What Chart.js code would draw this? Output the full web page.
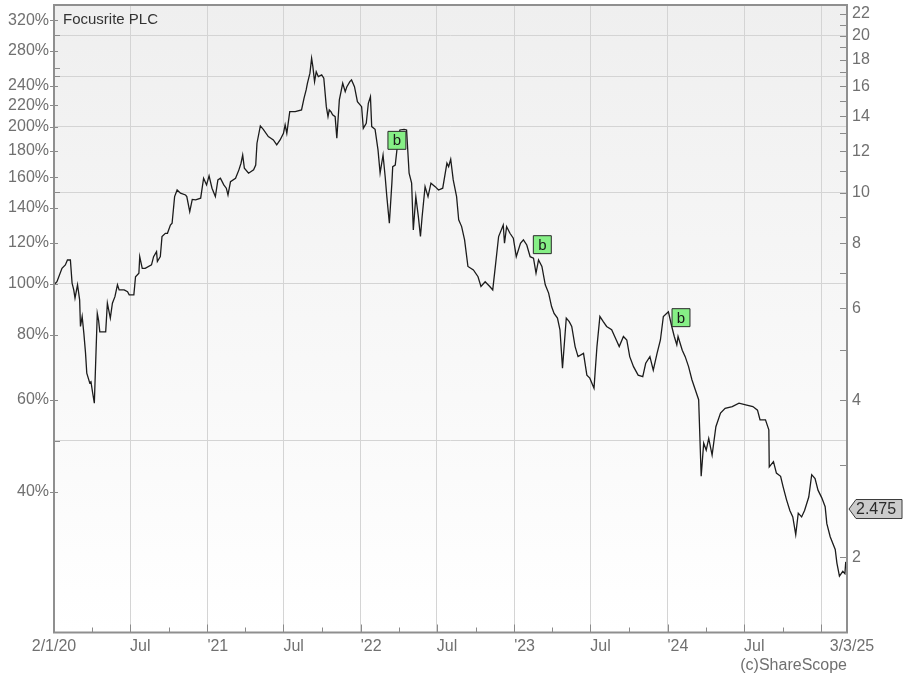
<!DOCTYPE html>
<html>
<head>
<meta charset="utf-8">
<title>Focusrite PLC</title>
<script src="https://cdn.jsdelivr.net/npm/chart.js@4.4.1/dist/chart.umd.min.js"></script>
<style>
  html, body { margin: 0; padding: 0; background: #fff; }
</style>
</head>
<body>
<canvas id="price_chart" width="904" height="676"></canvas>
<script>
const dates = [
  "2020-01-02","2020-01-09","2020-01-21","2020-01-29","2020-02-03","2020-02-10","2020-02-14","2020-02-18","2020-02-21","2020-02-27",
  "2020-03-03","2020-03-05","2020-03-09","2020-03-13","2020-03-17","2020-03-20","2020-03-27","2020-03-30","2020-04-03","2020-04-07",
  "2020-04-14","2020-04-17","2020-04-20","2020-05-04","2020-05-08","2020-05-15","2020-05-20","2020-05-26","2020-06-01","2020-06-05",
  "2020-06-17","2020-06-25","2020-06-29","2020-07-10","2020-07-14","2020-07-22","2020-07-24","2020-07-30","2020-08-06","2020-08-21",
  "2020-08-26","2020-09-02","2020-09-04","2020-09-11","2020-09-15","2020-09-23","2020-09-28","2020-10-05","2020-10-09","2020-10-15",
  "2020-10-21","2020-10-29","2020-11-10","2020-11-13","2020-11-20","2020-11-26","2020-12-04","2020-12-16","2020-12-23","2020-12-30",
  "2021-01-05","2021-01-12","2021-01-20","2021-01-26","2021-02-01","2021-02-09","2021-02-15","2021-02-19","2021-02-25","2021-03-09",
  "2021-03-17","2021-03-22","2021-03-26","2021-03-30","2021-04-09","2021-04-21","2021-04-26","2021-04-29","2021-05-07","2021-05-14",
  "2021-05-26","2021-06-01","2021-06-07","2021-06-15","2021-06-23","2021-07-01","2021-07-05","2021-07-09","2021-07-16","2021-07-29",
  "2021-08-13","2021-08-19","2021-08-24","2021-08-27","2021-09-02","2021-09-06","2021-09-09","2021-09-13","2021-09-17","2021-09-22",
  "2021-09-30","2021-10-05","2021-10-11","2021-10-15","2021-10-18","2021-10-22","2021-10-26","2021-11-01","2021-11-05","2021-11-11",
  "2021-11-19","2021-11-25","2021-11-29","2021-12-06","2021-12-10","2021-12-17","2021-12-24","2022-01-03","2022-01-07","2022-01-14",
  "2022-01-19","2022-01-24","2022-01-27","2022-02-04","2022-02-11","2022-02-16","2022-02-23","2022-02-28","2022-03-04","2022-03-10",
  "2022-03-16","2022-03-18","2022-03-24","2022-03-28","2022-04-04","2022-04-14","2022-04-20","2022-04-26","2022-05-02","2022-05-06",
  "2022-05-12","2022-05-18","2022-05-23","2022-05-27","2022-06-03","2022-06-10","2022-06-17","2022-06-27","2022-07-05","2022-07-15",
  "2022-07-25","2022-07-29","2022-08-03","2022-08-09","2022-08-17","2022-08-22","2022-08-29","2022-09-05","2022-09-13","2022-09-26",
  "2022-10-07","2022-10-14","2022-10-24","2022-11-04","2022-11-11","2022-11-18","2022-11-25","2022-12-06","2022-12-09","2022-12-14",
  "2022-12-22","2022-12-30","2023-01-06","2023-01-16","2023-01-23","2023-01-31","2023-02-08","2023-02-16","2023-02-22","2023-02-28",
  "2023-03-08","2023-03-16","2023-03-24","2023-03-31","2023-04-06","2023-04-14","2023-04-20","2023-04-26","2023-05-05","2023-05-12",
  "2023-05-18","2023-05-26","2023-06-02","2023-06-15","2023-06-23","2023-06-30","2023-07-10","2023-07-17","2023-07-24","2023-08-01",
  "2023-08-09","2023-08-21","2023-09-01","2023-09-08","2023-09-18","2023-09-26","2023-10-03","2023-10-12","2023-10-23","2023-11-03",
  "2023-11-10","2023-11-20","2023-11-28","2023-12-07","2023-12-15","2023-12-22","2024-01-03","2024-01-11","2024-01-17","2024-01-23",
  "2024-01-26","2024-02-05","2024-02-12","2024-02-20","2024-02-28","2024-03-07","2024-03-15","2024-03-21","2024-03-27","2024-04-02",
  "2024-04-08","2024-04-16","2024-04-25","2024-05-06","2024-05-17","2024-06-03","2024-06-19","2024-07-05","2024-07-22","2024-08-02",
  "2024-08-08","2024-08-21","2024-08-29","2024-08-30","2024-09-09","2024-09-16","2024-09-26","2024-10-02","2024-10-10","2024-10-18",
  "2024-10-25","2024-11-01","2024-11-07","2024-11-15","2024-11-22","2024-12-02","2024-12-09","2024-12-17","2024-12-24","2025-01-02",
  "2025-01-10","2025-01-14","2025-01-22","2025-02-03","2025-02-07","2025-02-13","2025-02-21","2025-02-26","2025-02-28"
];

const prices = [
  6.66, 6.75, 7.16, 7.27, 7.43, 7.43, 6.71, 6.51, 6.28, 6.66,
  6.23, 5.54, 5.79, 5.38, 4.93, 4.51, 4.32, 4.34, 4.13, 3.95,
  5.87, 5.70, 5.41, 5.41, 6.14, 5.75, 6.14, 6.32, 6.66, 6.51,
  6.51, 6.46, 6.37, 6.37, 6.90, 7.01, 7.54, 7.16, 7.16, 7.27,
  7.54, 7.71, 7.38, 7.54, 8.24, 8.36, 8.36, 8.67, 8.74, 9.83,
  10.12, 9.98, 9.90, 9.83, 9.20, 9.71, 9.69, 9.76, 10.66, 10.35,
  10.77, 10.20, 9.83, 10.58, 10.66, 10.35, 10.20, 9.90, 10.50, 10.66,
  11.06, 11.39, 11.81, 11.14, 10.90, 11.06, 11.30, 12.44, 13.43, 13.23,
  12.81, 12.72, 12.62, 12.35, 12.62, 13.00, 13.49, 13.00, 14.30, 14.30,
  14.41, 15.18, 15.74, 16.21, 16.95, 18.11, 17.45, 16.33, 17.06, 16.69,
  16.82, 16.58, 14.62, 13.99, 14.41, 14.30, 14.10, 13.99, 12.72, 15.06,
  16.21, 15.62, 15.97, 16.33, 16.45, 15.97, 14.95, 14.62, 13.29, 13.59,
  14.84, 15.28, 13.39, 13.23, 12.08, 10.90, 11.81, 10.74, 9.83, 8.74,
  10.43, 11.22, 11.30, 12.08, 13.19, 13.23, 13.19, 10.90, 10.43, 8.48,
  9.83, 9.00, 8.24, 9.00, 10.27, 9.83, 10.43, 10.27, 10.12, 10.20,
  11.39, 11.22, 11.59, 10.58, 9.83, 8.87, 8.61, 8.12, 7.22, 7.11,
  6.90, 6.61, 6.75, 6.61, 6.51, 7.32, 8.24, 8.67, 8.00, 8.61,
  8.36, 8.18, 7.54, 8.00, 8.12, 7.94, 7.54, 7.49, 7.01, 7.43,
  7.22, 6.66, 6.42, 6.05, 5.87, 5.75, 5.46, 4.61, 5.75, 5.66,
  5.54, 5.07, 4.85, 4.92, 4.47, 4.41, 4.22, 5.07, 5.79, 5.66,
  5.54, 5.46, 5.22, 5.07, 5.30, 5.22, 4.85, 4.64, 4.47, 4.44,
  4.71, 4.85, 4.57, 4.92, 5.22, 5.79, 5.91, 5.54, 5.30, 5.11,
  5.30, 4.99, 4.85, 4.64, 4.38, 4.19, 4.01, 2.86, 3.31, 3.21,
  3.38, 3.14, 3.56, 3.78, 3.86, 3.89, 3.95, 3.92, 3.89, 3.83,
  3.67, 3.67, 3.51, 2.98, 3.05, 2.90, 2.86, 2.73, 2.58, 2.46,
  2.39, 2.21, 2.43, 2.39, 2.46, 2.61, 2.88, 2.83, 2.69, 2.60,
  2.50, 2.32, 2.19, 2.07, 1.95, 1.84, 1.88, 1.86, 1.96
];

// buy signals ("b" boxes)
const buyDates = ["2022-03-28", "2023-03-09", "2024-02-02"];
const buyPrices = [12.6, 7.95, 5.76];

const basePrice = 6.684;   // price at 100%
const lastPrice = 2.475;
const priceMin = 1.435;
const priceMax = 22.9;

const pctTicks = [40, 50, 60, 80, 100, 120, 140, 150, 160, 180, 200, 220, 240, 250, 260, 280, 300, 320];
const pctLabelled = [40, 60, 80, 100, 120, 140, 160, 180, 200, 220, 240, 280, 320];
const pctGrid = [50, 100, 150, 200, 250, 300];

const priceTicks = [2, 3, 4, 5, 6, 7, 8, 9, 10, 11, 12, 13, 14, 15, 16, 17, 18, 19, 20, 21, 22];
const priceLabelled = [2, 4, 6, 8, 10, 12, 14, 16, 18, 20, 22];

const xTickDates = [
  "2020-01-02", "2020-04-01", "2020-07-01", "2020-10-01", "2021-01-01", "2021-04-01", "2021-07-01", "2021-10-01",
  "2022-01-01", "2022-04-01", "2022-07-01", "2022-10-01", "2023-01-01", "2023-04-01", "2023-07-01", "2023-10-01",
  "2024-01-01", "2024-04-01", "2024-07-01", "2024-10-01", "2025-01-01", "2025-03-03"
];
const xTickLabels = [
  "2/1/20", "", "Jul", "", "'21", "", "Jul", "",
  "'22", "", "Jul", "", "'23", "", "Jul", "",
  "'24", "", "Jul", "", "", "3/3/25"
];

const FONT = "'Liberation Sans', Arial, sans-serif";
const LABEL_COLOUR = "#707070";
const toTime = d => Date.parse(d + "T00:00:00Z");
const isGridDate = d => /-(01|07)-01$/.test(d);

// Keep the plot area where the original has it
function fixSize(prop, size) {
  return scale => {
    scale[prop] = size;
    scale.paddingTop = 0;
    scale.paddingBottom = 0;
    scale.paddingLeft = 0;
    scale.paddingRight = 0;
  };
}

const plotDecor = {
  id: "plotDecor",
  beforeDraw(chart) {
    const { ctx, chartArea: a } = chart;
    ctx.save();
    ctx.fillStyle = "#ffffff";
    ctx.fillRect(0, 0, chart.width, chart.height);
    const gradient = ctx.createLinearGradient(0, a.top, 0, a.bottom);
    gradient.addColorStop(0, "#efefef");
    gradient.addColorStop(1, "#ffffff");
    ctx.fillStyle = gradient;
    ctx.fillRect(a.left, a.top, a.right - a.left, a.bottom - a.top);
    ctx.restore();
  },
  afterDraw(chart) {
    const { ctx, chartArea: a, scales } = chart;
    ctx.save();

    // tick marks
    ctx.strokeStyle = "#8a8a8a";
    ctx.lineWidth = 1;
    ctx.beginPath();
    scales.x.ticks.forEach((t, i) => {
      if (i === 0 || i === xTickDates.length - 1) return;
      const x = Math.round(scales.x.getPixelForValue(t.value)) + 0.5;
      const len = isGridDate(xTickDates[i]) ? 8 : 5;
      ctx.moveTo(x, a.bottom);
      ctx.lineTo(x, a.bottom - len);
    });
    scales.pct.ticks.forEach(t => {
      const y = Math.round(scales.pct.getPixelForValue(t.value)) + 0.5;
      if (pctLabelled.includes(t.value)) {
        ctx.moveTo(a.left - 4, y);
        ctx.lineTo(a.left + 4, y);
      } else {
        ctx.moveTo(a.left, y);
        ctx.lineTo(a.left + 6, y);
      }
    });
    scales.price.ticks.forEach(t => {
      const y = Math.round(scales.price.getPixelForValue(t.value)) + 0.5;
      ctx.moveTo(a.right - 7, y);
      ctx.lineTo(a.right, y);
    });
    ctx.stroke();

    // frame
    ctx.strokeStyle = "#8f8f8f";
    ctx.lineWidth = 2;
    ctx.strokeRect(a.left, a.top, a.right - a.left, a.bottom - a.top);

    // x labels: first and last centred, the rest start at their tick
    ctx.font = "16px " + FONT;
    ctx.fillStyle = LABEL_COLOUR;
    ctx.textBaseline = "middle";
    scales.x.ticks.forEach((t, i) => {
      const label = xTickLabels[i];
      if (!label) return;
      const x = scales.x.getPixelForValue(t.value);
      const last = i === xTickDates.length - 1;
      ctx.textAlign = (i === 0 || last) ? "center" : "left";
      ctx.fillText(label, last ? x + 5 : x, a.bottom + 14);
    });

    ctx.textAlign = "right";
    ctx.fillText("(c)ShareScope", a.right, a.bottom + 33);

    // title
    ctx.fillStyle = "#333333";
    ctx.font = "15px " + FONT;
    ctx.textAlign = "left";
    ctx.fillText("Focusrite PLC", a.left + 9, a.top + 15);

    // "b" on the buy boxes (dataset 0)
    const meta = chart.getDatasetMeta(0);
    ctx.fillStyle = "#1a1a1a";
    ctx.font = "15px " + FONT;
    ctx.textAlign = "center";
    meta.data.forEach(p => ctx.fillText("b", p.x, p.y + 1));

    // last price tag on the right axis
    const y = scales.price.getPixelForValue(lastPrice);
    const x0 = a.right + 2;
    ctx.beginPath();
    ctx.moveTo(x0, y);
    ctx.lineTo(x0 + 7, y - 9.5);
    ctx.lineTo(902, y - 9.5);
    ctx.lineTo(902, y + 9.5);
    ctx.lineTo(x0 + 7, y + 9.5);
    ctx.closePath();
    ctx.fillStyle = "#cbcbcb";
    ctx.fill();
    ctx.strokeStyle = "#3a3a3a";
    ctx.lineWidth = 1;
    ctx.stroke();
    ctx.fillStyle = "#2a2a2a";
    ctx.font = "16px " + FONT;
    ctx.textAlign = "left";
    ctx.fillText(lastPrice.toFixed(3), x0 + 7, y + 1);

    ctx.restore();
  }
};

const context = document.getElementById("price_chart").getContext("2d");

new Chart(context, {
  type: "line",
  data: {
    datasets: [
      {
        type: "scatter",
        label: "Buy",
        data: buyDates.map((d, i) => ({ x: toTime(d), y: buyPrices[i] })),
        yAxisID: "price",
        pointStyle: "rect",
        pointRadius: 12.7,
        backgroundColor: "#86ef86",
        borderColor: "#2a2a2a",
        borderWidth: 1,
        order: 1
      },
      {
        label: "Focusrite PLC",
        data: dates.map((d, i) => ({ x: toTime(d), y: prices[i] })),
        yAxisID: "price",
        borderColor: "#1c1c1c",
        borderWidth: 1.3,
        pointRadius: 0,
        tension: 0,
        order: 2
      }
    ]
  },
  options: {
    responsive: false,
    animation: false,
    events: [],
    layout: { autoPadding: false, padding: { top: 5, left: 0, right: 0, bottom: 0 } },
    plugins: { legend: { display: false }, tooltip: { enabled: false } },
    scales: {
      x: {
        type: "linear",
        min: toTime(xTickDates[0]),
        max: toTime(xTickDates[xTickDates.length - 1]),
        afterBuildTicks: scale => { scale.ticks = xTickDates.map(d => ({ value: toTime(d) })); },
        afterFit: fixSize("height", 43.5),
        ticks: { display: false, autoSkip: false },
        grid: {
          drawTicks: false,
          color: c => isGridDate(xTickDates[c.index] || "") && c.index > 0 ? "#d4d4d4" : "rgba(0,0,0,0)"
        },
        border: { display: false }
      },
      pct: {
        type: "logarithmic",
        position: "left",
        min: priceMin / basePrice * 100,
        max: priceMax / basePrice * 100,
        afterBuildTicks: scale => { scale.ticks = pctTicks.map(v => ({ value: v })); },
        afterFit: fixSize("width", 54),
        ticks: {
          autoSkip: false,
          padding: 5,
          color: LABEL_COLOUR,
          font: { family: FONT, size: 16 },
          callback: v => pctLabelled.includes(v) ? v + "%" : ""
        },
        grid: {
          drawTicks: false,
          color: c => c.tick && pctGrid.includes(c.tick.value) ? "#d4d4d4" : "rgba(0,0,0,0)"
        },
        border: { display: false }
      },
      price: {
        type: "logarithmic",
        position: "right",
        min: priceMin,
        max: priceMax,
        afterBuildTicks: scale => { scale.ticks = priceTicks.map(v => ({ value: v })); },
        afterFit: fixSize("width", 57),
        ticks: {
          autoSkip: false,
          padding: 5,
          color: LABEL_COLOUR,
          font: { family: FONT, size: 16 },
          callback: v => priceLabelled.includes(v) ? String(v) : ""
        },
        grid: { display: false, drawTicks: false },
        border: { display: false }
      }
    }
  },
  plugins: [plotDecor]
});
</script>
</body>
</html>
